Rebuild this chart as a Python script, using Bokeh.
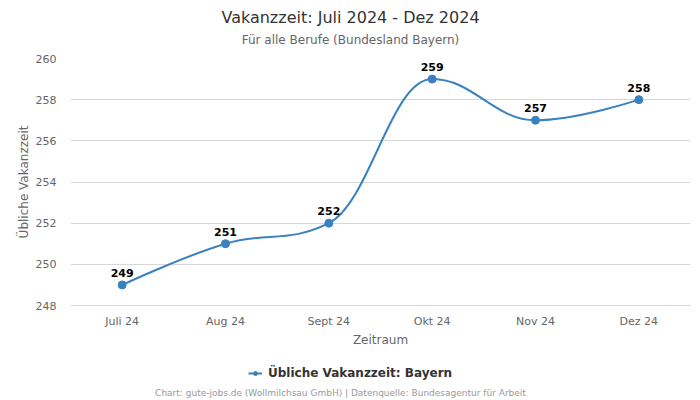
from bokeh.plotting import figure
from bokeh.layouts import column
from bokeh.models import Range1d, FixedTicker, Legend, LegendItem, Label
from bokeh.core.properties import value
from bokeh.embed import file_html
from bokeh.resources import INLINE

months = ["Juli 24", "Aug 24", "Sept 24", "Okt 24", "Nov 24", "Dez 24"]
vals = [249, 251, 252, 259, 257, 258]
y_ticks = [248, 250, 252, 254, 256, 258, 260]

title_text = "Vakanzzeit: Juli 2024 - Dez 2024"
subtitle_text = "Für alle Berufe (Bundesland Bayern)"
series_name = "Übliche Vakanzzeit: Bayern"
credits_text = "Chart: gute-jobs.de (Wollmilchsau GmbH) | Datenquelle: Bundesagentur für Arbeit"

COLOR = "#3a81bf"
FONT = "DejaVu Sans"

xs = list(range(len(months)))

# Highcharts-style spline control points
def spline_controls(x, y, smoothing=1.5):
    n = len(x)
    left = [None] * n
    right = [None] * n
    denom = smoothing + 1
    for i in range(1, n - 1):
        px, py = x[i], y[i]
        lx, ly = x[i - 1], y[i - 1]
        nx, ny = x[i + 1], y[i + 1]
        lcx = (smoothing * px + lx) / denom
        lcy = (smoothing * py + ly) / denom
        rcx = (smoothing * px + nx) / denom
        rcy = (smoothing * py + ny) / denom
        if rcx != lcx:
            corr = ((rcy - lcy) * (rcx - px)) / (rcx - lcx) + py - rcy
            lcy += corr
            rcy += corr
        if lcy > ly and lcy > py:
            lcy = max(ly, py)
            rcy = 2 * py - lcy
        elif lcy < ly and lcy < py:
            lcy = min(ly, py)
            rcy = 2 * py - lcy
        if rcy > ny and rcy > py:
            rcy = max(ny, py)
            lcy = 2 * py - rcy
        elif rcy < ny and rcy < py:
            rcy = min(ny, py)
            lcy = 2 * py - rcy
        left[i] = (lcx, lcy)
        right[i] = (rcx, rcy)
    segs = dict(x0=[], y0=[], x1=[], y1=[], cx0=[], cy0=[], cx1=[], cy1=[])
    for i in range(1, n):
        c0 = right[i - 1] if right[i - 1] else (x[i - 1], y[i - 1])
        c1 = left[i] if left[i] else (x[i], y[i])
        segs["x0"].append(x[i - 1]); segs["y0"].append(y[i - 1])
        segs["x1"].append(x[i]); segs["y1"].append(y[i])
        segs["cx0"].append(c0[0]); segs["cy0"].append(c0[1])
        segs["cx1"].append(c1[0]); segs["cy1"].append(c1[1])
    return segs

segs = spline_controls(xs, vals)


def strip(height):
    s = figure(width=700, height=height, output_backend="svg", toolbar_location=None,
               x_range=Range1d(0, 1), y_range=Range1d(0, 1),
               min_border=0, x_axis_type=None, y_axis_type=None)
    s.title = None
    s.outline_line_color = None
    s.xgrid.visible = False
    s.ygrid.visible = False
    s.background_fill_color = "white"
    s.border_fill_color = "white"
    return s

# ---------------- title strip ----------------
t = strip(50)
t.add_layout(Label(x=280, y=33, x_units="screen", y_units="screen", text=title_text,
                   text_align="center", text_baseline="middle", text_font=FONT,
                   text_font_size="16px", text_color="#333333"))
t.add_layout(Label(x=280, y=11, x_units="screen", y_units="screen", text=subtitle_text,
                   text_align="center", text_baseline="middle", text_font=FONT,
                   text_font_size="12px", text_color="#666666"))

# ---------------- main chart ----------------
p = figure(width=700, height=305, output_backend="svg", toolbar_location=None,
           x_range=Range1d(-0.5, 5.5), y_range=Range1d(248, 260),
           min_border_left=70, min_border_right=10, min_border_top=8, min_border_bottom=50)
p.title = None
p.outline_line_color = None
p.background_fill_color = "white"
p.border_fill_color = "white"

p.bezier(x0="x0", y0="y0", x1="x1", y1="y1", cx0="cx0", cy0="cy0", cx1="cx1", cy1="cy1",
         source=segs, line_color=COLOR, line_width=2)
p.scatter(xs, vals, size=8, color=COLOR)
p.text(xs, vals, text=[str(v) for v in vals], text_align="center", text_baseline="middle",
       y_offset=-12, text_font=value(FONT), text_font_style="bold", text_font_size="11px",
       text_color="black")

p.xaxis.ticker = FixedTicker(ticks=xs)
p.xaxis.major_label_overrides = {i: m for i, m in enumerate(months)}
p.xaxis.axis_label = "Zeitraum"
p.xaxis.axis_line_color = "#ccd6eb"
p.xaxis.major_tick_line_color = None
p.xaxis.major_tick_out = 0
p.xaxis.minor_tick_line_color = None
p.xaxis.minor_tick_out = 0
p.xaxis.major_label_text_font = FONT
p.xaxis.major_label_text_font_size = "11px"
p.xaxis.major_label_text_color = "#666666"
p.xaxis.major_label_standoff = 9
p.xaxis.axis_label_text_font = FONT
p.xaxis.axis_label_text_font_size = "12px"
p.xaxis.axis_label_text_font_style = "normal"
p.xaxis.axis_label_text_color = "#666666"
p.xaxis.axis_label_standoff = 2

p.yaxis.ticker = FixedTicker(ticks=y_ticks)
p.yaxis.axis_label = "Übliche Vakanzzeit"
p.yaxis.axis_line_color = None
p.yaxis.major_tick_line_color = None
p.yaxis.major_tick_out = 0
p.yaxis.minor_tick_line_color = None
p.yaxis.minor_tick_out = 0
p.yaxis.major_label_text_font = FONT
p.yaxis.major_label_text_font_size = "11px"
p.yaxis.major_label_text_color = "#666666"
p.yaxis.major_label_standoff = 14
p.yaxis.axis_label_text_font = FONT
p.yaxis.axis_label_text_font_size = "12px"
p.yaxis.axis_label_text_font_style = "normal"
p.yaxis.axis_label_text_color = "#666666"
p.yaxis.axis_label_standoff = 2

p.xgrid.grid_line_color = None
p.ygrid.grid_line_color = "#d8d8d8"
p.ygrid.grid_line_width = 1

# ---------------- legend + credits strip ----------------
f = strip(45)
# series drawn here only to supply the legend symbol (outside this strip's range)
leg_line = f.line(xs, vals, line_color=COLOR, line_width=2)
leg_pts = f.scatter(xs, vals, size=8, color=COLOR)
legend = Legend(items=[LegendItem(label=series_name, renderers=[leg_line, leg_pts])],
                location=(178, 20), orientation="horizontal",
                label_text_font=FONT, label_text_font_size="12px",
                label_text_font_style="bold", label_text_color="#333333",
                border_line_color=None, background_fill_alpha=0,
                glyph_width=14, glyph_height=10, label_standoff=6,
                padding=0, margin=0)
f.add_layout(legend)

f.add_layout(Label(x=270, y=8, x_units="screen", y_units="screen", text=credits_text,
                   text_align="center", text_baseline="middle", text_font=FONT,
                   text_font_size="9px", text_color="#999999"))

layout = column(t, p, f, spacing=0)
open("out.html", "w").write(file_html(layout, INLINE))
